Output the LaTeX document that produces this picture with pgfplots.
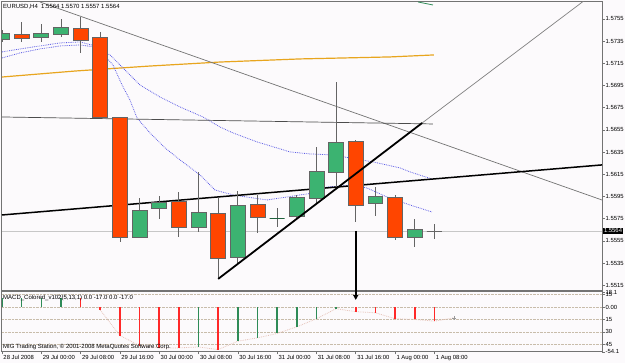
\documentclass[border=0pt]{standalone}
\usepackage{fontspec}
\setmainfont{Liberation Sans}
\usepackage{pgfplots}
\pgfplotsset{compat=1.18}
\usetikzlibrary{arrows.meta}
\definecolor{bg}{RGB}{252,250,252}
\definecolor{cup}{RGB}{60,179,113}
\definecolor{cdown}{RGB}{255,69,0}
\definecolor{cedge}{RGB}{100,100,100}
\definecolor{maorange}{RGB}{232,165,30}
\definecolor{mablue}{RGB}{95,95,230}
\definecolor{hgreen}{RGB}{46,139,87}
\definecolor{hred}{RGB}{255,40,40}
\definecolor{lvl}{RGB}{200,188,170}
\definecolor{frm}{RGB}{115,115,115}
\definecolor{sig}{RGB}{230,195,185}
% left, centre, right, low, body low, body high, high, fill, draw
\newcommand{\candle}[9]{%
\addplot[draw=cedge, line width=0.8pt] coordinates {(#2,#4) (#2,#7)};
\addplot[fill=#8, draw=#9, line width=0.8pt] coordinates {(#1,#5) (#3,#5) (#3,#6) (#1,#6)} -- cycle;}
\newcommand{\tl}{\fontsize{5.9}{7}\selectfont}
\begin{document}
\begin{tikzpicture}
\path[use as bounding box, fill=bg] (0pt,0pt) rectangle (625pt,363pt);
\begin{axis}[
 name=main, at={(2pt,72pt)}, anchor=south west, scale only axis,
 width=600pt, height=289pt,
 xmin=0, xmax=30.53, ymin=1.55099, ymax=1.57703,
 xtick=\empty,
 ytick={1.5515,1.5535,1.5555,1.5575,1.5595,1.5615,1.5635,1.5655,1.5675,1.5695,1.5715,1.5735,1.5755},
 yticklabels={1.5515,1.5535,1.5555,1.5575,1.5595,1.5615,1.5635,1.5655,1.5675,1.5695,1.5715,1.5735,1.5755},
 ytick pos=right, yticklabel pos=right, tick align=outside, major tick length=2.5pt,
 y tick label style={font=\tl, inner sep=1pt},
 axis line style={frm, line width=1pt},
 tick style={frm, line width=0.6pt},
 axis background/.style={fill=bg},
]
% bid line
\addplot[draw=black!22, line width=0.6pt] coordinates {(0,1.5564) (30.53,1.5564)};
% moving averages
\addplot[maorange, line width=1.2pt] coordinates {(0,1.57027) (3.72,1.57081) (7.53,1.57126) (11.09,1.57162) (15.17,1.57190) (19.75,1.57208) (21.98,1.57226)};
\addplot[hgreen, line width=0.8pt] coordinates {(21.17,1.57703) (21.93,1.57676)};
\addplot[mablue, densely dotted, line width=0.8pt] coordinates {(0,1.57253) (0.92,1.57280) (1.93,1.57307) (2.95,1.57334) (3.97,1.57343) (4.73,1.57307) (5.24,1.57217) (5.65,1.57135) (6.11,1.56955) (6.51,1.56820) (6.87,1.56658) (7.53,1.56523) (8.30,1.56388) (9.06,1.56280) (10.08,1.56144) (10.84,1.56009) (11.76,1.55964) (13.49,1.55919) (14.50,1.55946) (15.83,1.55982) (16.54,1.56036) (17.20,1.56045) (17.86,1.56054) (18.57,1.56027) (19.59,1.55946) (20.76,1.55874) (21.88,1.55811)};
\addplot[mablue, densely dotted, line width=0.8pt] coordinates {(0,1.57199) (0.92,1.57244) (1.93,1.57280) (2.95,1.57307) (3.97,1.57316) (4.73,1.57298) (5.50,1.57226) (6.26,1.57090) (7.02,1.56955) (8.04,1.56847) (9.06,1.56757) (10.23,1.56667) (11.09,1.56577) (11.76,1.56523) (12.98,1.56442) (14.66,1.56352) (15.67,1.56334) (16.84,1.56325) (17.71,1.56298) (18.88,1.56262) (20.25,1.56208) (20.76,1.56172) (21.88,1.56108)};
% trend lines
\addplot[black!55, line width=0.7pt] coordinates {(1.93,1.57703) (30.53,1.55919)};
\addplot[black!70, line width=0.7pt] coordinates {(0,1.56667) (21.93,1.56604)};
\addplot[black, line width=1.5pt] coordinates {(0,1.55784) (30.53,1.56235)};
\addplot[black!50, line width=0.7pt] coordinates {(21.38,1.56613) (29.6,1.57712)};
% candles
\candle{-0.38}{0}{0.38}{1.57343}{1.57370}{1.57424}{1.57451}{cup}{cedge}
\candle{0.62}{1}{1.38}{1.57343}{1.57379}{1.57415}{1.57523}{cdown}{cedge}
\candle{1.62}{2}{2.38}{1.57343}{1.57388}{1.57424}{1.57505}{cup}{cedge}
\candle{2.62}{3}{3.38}{1.57388}{1.57415}{1.57478}{1.57550}{cup}{cedge}
\candle{3.62}{4}{4.38}{1.57244}{1.57361}{1.57469}{1.57568}{cdown}{cedge}
\candle{4.62}{5}{5.38}{1.56667}{1.56667}{1.57388}{1.57433}{cdown}{cedge}
\candle{5.62}{6}{6.38}{1.55541}{1.55586}{1.56667}{1.56667}{cdown}{cedge}
\candle{6.62}{7}{7.38}{1.55577}{1.55586}{1.55829}{1.55937}{cup}{cedge}
\candle{7.62}{8}{8.38}{1.55748}{1.55847}{1.55901}{1.55955}{cup}{cedge}
\candle{8.62}{9}{9.38}{1.55586}{1.55676}{1.55910}{1.55991}{cdown}{cedge}
\candle{9.62}{10}{10.38}{1.55631}{1.55676}{1.55811}{1.56172}{cup}{cedge}
\candle{10.62}{11}{11.38}{1.55208}{1.55397}{1.55802}{1.55937}{cdown}{cedge}
\candle{11.62}{12}{12.38}{1.55352}{1.55406}{1.55874}{1.56000}{cup}{cedge}
\candle{12.62}{13}{13.38}{1.55622}{1.55766}{1.55883}{1.55964}{cdown}{cedge}
\candle{13.62}{14}{14.38}{1.55676}{1.55757}{1.55757}{1.55847}{none}{hgreen!70!black}
\candle{14.62}{15}{15.38}{1.55757}{1.55775}{1.55946}{1.55964}{cup}{cedge}
\candle{15.62}{16}{16.38}{1.55892}{1.55937}{1.56181}{1.56397}{cup}{cedge}
\candle{16.62}{17}{17.38}{1.56036}{1.56172}{1.56442}{1.56982}{cup}{cedge}
\candle{17.62}{18}{18.38}{1.55721}{1.55874}{1.56451}{1.56460}{cdown}{cedge}
\candle{18.62}{19}{19.38}{1.55775}{1.55892}{1.55955}{1.56036}{cup}{cedge}
\candle{19.62}{20}{20.38}{1.55559}{1.55586}{1.55946}{1.55964}{cdown}{cedge}
\candle{20.62}{21}{21.38}{1.55496}{1.55586}{1.55658}{1.55748}{cup}{cedge}
\candle{21.62}{22}{22.38}{1.5557}{1.5564}{1.5564}{1.5570}{none}{black!60}
% rising trend line drawn on top
\addplot[black, line width=1.8pt] coordinates {(11,1.55208) (21.38,1.56613)};
\coordinate (A) at (axis cs:18,1.5564);
\coordinate (bid) at (axis cs:30.53,1.5564);
\end{axis}
\begin{axis}[
 name=ind, at={(2pt,11pt)}, anchor=south west, scale only axis,
 width=600pt, height=60pt,
 xmin=0, xmax=30.53, ymin=-54.1, ymax=18.1,
 xtick={0,2,4,6,8,10,12,14,16,18,20,22},
 xticklabels={28 Jul 2008,29 Jul 00:00,29 Jul 08:00,29 Jul 16:00,30 Jul 00:00,30 Jul 08:00,30 Jul 16:00,31 Jul 00:00,31 Jul 08:00,31 Jul 16:00,1 Aug 00:00,1 Aug 08:00},
 xtick pos=bottom, x tick label style={font=\tl, anchor=north west, inner sep=0.8pt, xshift=0.5pt},
 ytick={-45,-30,-15,0,15},
 yticklabels={45,30,15,0.00,15},
 extra y ticks={-54.1,18.1},
 extra y tick labels={-54.1,18.1},
 extra y tick style={grid=none},
 ymajorgrids, grid style={lvl, densely dotted, line width=0.9pt},
 ytick pos=right, yticklabel pos=right, tick align=outside, major tick length=2.5pt,
 y tick label style={font=\tl, inner sep=1pt},
 axis line style={frm, line width=1pt},
 tick style={frm, line width=0.6pt},
 axis background/.style={fill=bg},
]
\addplot[sig, densely dotted, line width=0.8pt] coordinates {(4.9,0) (5,-3.6) (6,-34.3) (7,-46.4) (8,-49.2) (9,-49.2) (10,-48) (11,-51.2) (12,-41.1) (13,-37.1) (14,-31.8) (15,-23.8) (16,-14.1) (17,-2) (18,-5.6) (19,-6.9) (20,-14.1) (21,-14.9) (22,-17) (23,-13)};
\addplot[ycomb, hgreen, line width=1.6pt] coordinates {(0,11) (1,11) (2,11) (3,11) (10,-48) (12,-41.1) (13,-37.1) (14,-31.8) (15,-23.8) (16,-14.1) (17,-2)};
\addplot[ycomb, hred, line width=1.6pt] coordinates {(4,11) (5,-3.6) (6,-34.3) (7,-46.4) (8,-49.2) (9,-49.2) (11,-51.2) (18,-5.6) (19,-6.9) (20,-14.1) (21,-14.9) (22,-17)};
\addplot[only marks, mark=+, black!40, mark size=2pt] coordinates {(23,-13)};
\coordinate (B) at (axis cs:18,8.5);
\end{axis}
\draw[black, line width=1.5pt, -{Triangle[length=5pt,width=5pt]}] (A) -- (B);
\node[fill=black, text=white, anchor=west, inner sep=0.8pt, font=\tl] at ([xshift=1pt]bid) {1.5564};
\node[anchor=west, inner sep=0pt, font=\fontsize{6}{7}\selectfont] at (3pt,356pt) {EURUSD,H4\ \ 1.5564 1.5570 1.5557 1.5564};
\node[anchor=west, inner sep=0pt, font=\fontsize{6}{7}\selectfont] at (3pt,65pt) {MACD\_Colored\_v102(5,13,1) 0.0 -17.0 0.0 -17.0};
\node[anchor=west, inner sep=0pt, font=\fontsize{6}{7}\selectfont] at (3pt,16pt) {MIG Trading Station, \textcopyright{} 2001-2008 MetaQuotes Software Corp.};
\end{tikzpicture}
\end{document}
